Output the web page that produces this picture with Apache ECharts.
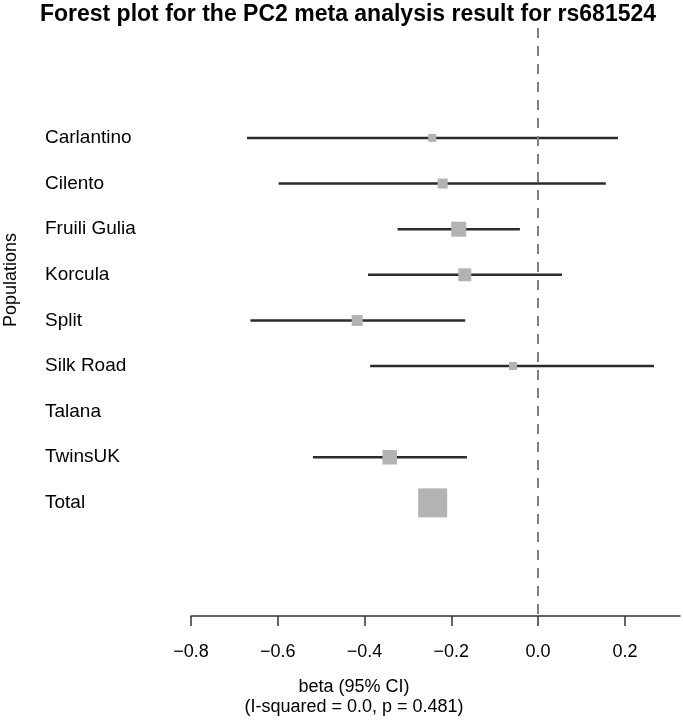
<!DOCTYPE html>
<html><head><meta charset="utf-8">
<script src="https://cdn.jsdelivr.net/npm/echarts@6/dist/echarts.min.js"></script>
<style>html,body{margin:0;padding:0;background:#fff}#c{width:683px;height:721px}</style>
</head><body><div id="c"></div>
<script>
var populations = ['Carlantino','Cilento','Fruili Gulia','Korcula','Split','Silk Road','Talana','TwinsUK','Total'];
var estimates = [-0.244, -0.220, -0.183, -0.169, -0.417, -0.058, null, -0.342, -0.243];
var lowerCI   = [-0.671, -0.598, -0.324, -0.392, -0.663, -0.387, null, -0.519, null];
var upperCI   = [ 0.184,  0.156, -0.042,  0.055, -0.168,  0.267, null, -0.164, null];
var weights   = [8, 10, 15, 13, 11, 8, null, 14.5, 29];
var xTicks = [-0.8, -0.6, -0.4, -0.2, 0.0, 0.2];

var FONT = 'Liberation Sans, Arial, sans-serif';
var rows = populations.map(function(p, i){ return [i, estimates[i], lowerCI[i], upperCI[i], weights[i]]; });

var chart = echarts.init(document.getElementById('c'));
chart.setOption({
  animation: false,
  backgroundColor: '#fff',
  graphic: [
    {type: 'text', x: 348, y: 3, style: {text: 'Forest plot for the PC2 meta analysis result for rs681524', font: 'bold 23px ' + FONT, fill: '#000', textAlign: 'center', textVerticalAlign: 'top'}},
    {type: 'text', x: 354, y: 677, style: {text: 'beta (95% CI)\n(I-squared = 0.0, p = 0.481)', font: '18px ' + FONT, fill: '#000', textAlign: 'center', textVerticalAlign: 'top', lineHeight: 20}},
    {type: 'text', x: 2, y: 280, rotation: Math.PI/2, style: {text: 'Populations', font: '18px ' + FONT, fill: '#000', textAlign: 'center', textVerticalAlign: 'top'}}
  ],
  grid: {left: 191, right: 3, top: 28, bottom: 105},
  xAxis: {
    type: 'value', min: -0.8, max: 0.327,
    splitLine: {show: false},
    axisLine: {onZero: false, lineStyle: {color: '#333', width: 1.5}},
    axisTick: {customValues: xTicks, length: 10, lineStyle: {color: '#333', width: 1.5}},
    axisLabel: {customValues: xTicks, margin: 27, fontFamily: FONT, fontSize: 18, color: '#000',
      formatter: function(v){ return v.toFixed(1).replace('-', '\u2212'); }}
  },
  yAxis: {
    type: 'value', inverse: true, min: -2.41, max: 10.48,
    splitLine: {show: false}, axisLine: {show: false},
    axisTick: {show: false},
    axisLabel: {customValues: [0,1,2,3,4,5,6,7,8], align: 'left', margin: 146,
      fontFamily: FONT, fontSize: 19, color: '#000',
      formatter: function(v){ return populations[Math.round(v)]; }}
  },
  series: [{
    type: 'custom',
    data: rows,
    encode: {x: 1, y: 0},
    renderItem: function(params, api){
      var i = api.value(0), est = api.value(1), lo = api.value(2), hi = api.value(3), w = api.value(4);
      var children = [];
      if (!isNaN(lo) && !isNaN(hi) && lo !== null) {
        var p1 = api.coord([lo, i]), p2 = api.coord([hi, i]);
        children.push({type: 'line', shape: {x1: p1[0], y1: p1[1], x2: p2[0], y2: p2[1]},
          style: {stroke: '#2b2b2b', lineWidth: 2.5}});
      }
      if (!isNaN(est) && est !== null) {
        var c = api.coord([est, i]);
        children.push({type: 'rect', shape: {x: c[0]-w/2, y: c[1]-w/2, width: w, height: w},
          style: {fill: '#b3b3b3'}});
      }
      return {type: 'group', children: children};
    },
    markLine: {
      silent: true, symbol: 'none', label: {show: false},
      lineStyle: {color: '#808080', type: [10, 8], width: 2},
      data: [{xAxis: 0}]
    }
  }]
});
</script></body></html>
